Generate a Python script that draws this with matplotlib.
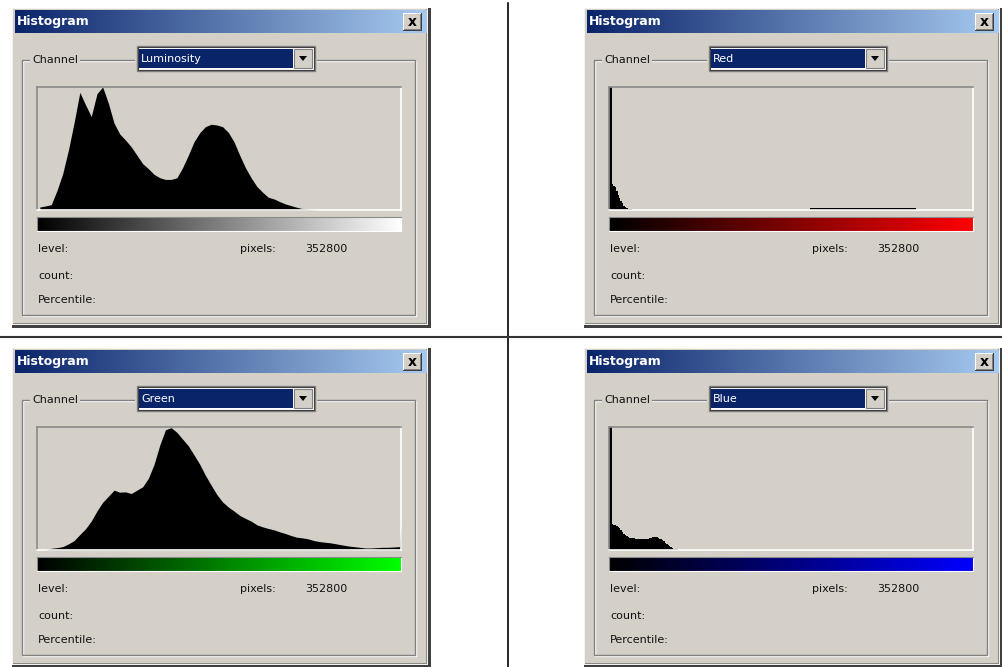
import matplotlib.pyplot as plt
import numpy as np
from matplotlib.patches import Rectangle, Polygon
from matplotlib.colors import LinearSegmentedColormap

W, H = 1003, 667
FACE = '#D4D0C8'

channel_names = ['Luminosity', 'Red', 'Green', 'Blue']
ramp_colors = ['#FFFFFF', '#FF0000', '#00FF00', '#0000FF']
pixel_count = 352800

# luminosity, 4-level bins
lum_levels = list(range(2, 256, 4))
lum_counts = [9, 12, 16, 58, 108, 178, 260, 350, 313, 278, 346, 366, 318, 258, 226, 208,
              188, 163, 138, 123, 106, 96, 91, 91, 96, 126, 163, 203, 230, 248, 255, 253,
              248, 231, 203, 163, 126, 96, 70, 53, 38, 33, 25, 18, 13, 8, 4, 2,
              1, 0, 0, 0, 0, 0, 0, 0, 0, 0, 0, 0, 0, 0, 0, 0]

# red: almost everything in the first few levels
red_levels = [0, 1, 2, 3, 4, 5, 6, 7, 8, 9, 10, 11, 12, 13, 14, 15, 16, 17, 18,
              141, 213, 214, 215, 255]
red_counts = [366, 366, 78, 72, 68, 58, 45, 35, 28, 20, 13, 9, 7, 4, 3, 2, 1, 1, 0,
              5.5, 5.5, 6, 0, 0]

# green, 4-level bins plus the clipped level 255
green_levels = list(range(2, 256, 4)) + [255]
green_counts = [0, 0, 5, 7, 10, 18, 28, 46, 63, 86, 116, 142, 160, 178, 172, 173,
                168, 178, 188, 213, 255, 312, 358, 364, 350, 330, 310, 283, 255, 222, 193, 165,
                143, 128, 116, 103, 94, 86, 75, 69, 64, 60, 54, 49, 43, 38, 36, 33,
                28, 25, 23, 21, 18, 15, 12, 10, 8, 6, 6, 7, 8, 8, 9, 10, 78]

blue_levels = [0, 1, 2, 3, 4, 5, 6, 7, 8, 9, 10, 11, 12, 13, 14, 16, 18, 20, 22, 24,
               26, 28, 30, 32, 34, 35, 36, 37, 38, 39, 40, 41, 42, 43, 44, 45, 46, 47, 48, 49, 255]
blue_counts = [366, 366, 78, 75, 73, 71, 68, 64, 60, 55, 48, 45, 42, 39, 37, 35, 34, 33, 33, 33,
               34, 36, 38, 38, 36, 34, 32, 29, 26, 22, 18, 15, 11, 8, 6, 4, 3, 2, 1, 0, 0]

hist_levels = [lum_levels, red_levels, green_levels, blue_levels]
hist_counts = [lum_counts, red_counts, green_counts, blue_counts]
hist_step = [None, 'post', None, 'post']
offsets = [(0, 0), (572, 0), (0, 340), (572, 340)]

fig = plt.figure(figsize=(W / 100, H / 100), dpi=100)
fig.patch.set_facecolor('white')
bg = fig.add_axes([0, 0, 1, 1])
bg.axis('off')

title_cmap = LinearSegmentedColormap.from_list('title', ['#0A246A', '#A6CAF0'])
grad = np.linspace(0, 1, 256).reshape(1, -1)


def rect(x0, y0, x1, y1, **kw):
    bg.add_patch(Rectangle((x0, y0), x1 - x0, y1 - y0, **kw))


def fig_axes(x0, y0, x1, y1):
    return fig.add_axes([x0 / W, 1 - y1 / H, (x1 - x0) / W, (y1 - y0) / H])


for k in range(4):
    dx, dy = offsets[k]
    # window frame
    rect(12 + dx, 8 + dy, 431 + dx, 328 + dy, facecolor='#404040', edgecolor='none')
    rect(12 + dx, 8 + dy, 428 + dx, 325 + dy, facecolor='#F4F3EF', edgecolor='none')
    rect(13 + dx, 9 + dy, 427 + dx, 324 + dy, facecolor='#8C8A85', edgecolor='none')
    rect(13 + dx, 9 + dy, 426 + dx, 323 + dy, facecolor=FACE, edgecolor='none')
    # title bar
    bg.imshow(grad, cmap=title_cmap, aspect='auto',
              extent=(15 + dx, 427 + dx, 33 + dy, 10 + dy), zorder=2)
    bg.text(17 + dx, 22 + dy, 'Histogram', color='white', fontsize=9,
            fontweight='bold', va='center', ha='left', zorder=3)
    rect(403 + dx, 13 + dy, 422 + dx, 31 + dy, facecolor='#404040', zorder=3)
    rect(403 + dx, 13 + dy, 421 + dx, 30 + dy, facecolor='white', zorder=3)
    rect(404 + dx, 14 + dy, 421 + dx, 30 + dy, facecolor='#808080', zorder=3)
    rect(404 + dx, 14 + dy, 420 + dx, 29 + dy, facecolor=FACE, zorder=3)
    bg.text(412 + dx, 21.5 + dy, 'x', color='black', fontsize=10, fontweight='bold',
            ha='center', va='center', zorder=4)

    # group box (etched)
    rect(23 + dx, 61 + dy, 416 + dx, 316 + dy, facecolor='none', edgecolor='white', lw=1)
    rect(22 + dx, 60 + dy, 415 + dx, 315 + dy, facecolor='none', edgecolor='#808080', lw=1)
    bg.text(32 + dx, 60 + dy, 'Channel', fontsize=8, color='#111111', va='center',
            ha='left', zorder=3,
            bbox=dict(facecolor=FACE, edgecolor='none', pad=1.5))

    # combo box
    rect(135 + dx, 45 + dy, 317 + dx, 72 + dy, facecolor=FACE, edgecolor='none', zorder=2)
    rect(137 + dx, 46 + dy, 315 + dx, 71 + dy, facecolor='white', edgecolor='#808080',
         lw=1, zorder=2)
    rect(138 + dx, 47 + dy, 314 + dx, 70 + dy, facecolor='white', edgecolor='#404040',
         lw=0.8, zorder=2)
    rect(139 + dx, 49 + dy, 293 + dx, 68 + dy, facecolor='#0A246A', zorder=3)
    bg.text(141 + dx, 58.5 + dy, channel_names[k], color='white', fontsize=8,
            va='center', ha='left', zorder=4)
    rect(294 + dx, 49 + dy, 312 + dx, 68 + dy, facecolor=FACE, edgecolor='#808080',
         lw=0.8, zorder=3)
    bg.add_patch(Polygon([(299 + dx, 56 + dy), (307 + dx, 56 + dy), (303 + dx, 61 + dy)],
                         closed=True, facecolor='black', edgecolor='none', zorder=4))

    # labels
    bg.text(38 + dx, 249 + dy, 'level:', fontsize=8, color='#111111', va='center')
    bg.text(240 + dx, 249 + dy, 'pixels:', fontsize=8, color='#111111', va='center')
    bg.text(305 + dx, 249 + dy, str(pixel_count), fontsize=8, color='#111111', va='center')
    bg.text(38 + dx, 276 + dy, 'count:', fontsize=8, color='#111111', va='center')
    bg.text(38 + dx, 300 + dy, 'Percentile:', fontsize=8, color='#111111', va='center')

    # histogram
    ax = fig_axes(37 + dx, 87 + dy, 401 + dx, 210 + dy)
    ax.set_facecolor(FACE)
    ax.fill_between(hist_levels[k], hist_counts[k], 0, color='black', lw=0,
                    step=hist_step[k])
    ax.set_xlim(0, 255)
    ax.set_ylim(0, 366)
    ax.set_xticks([])
    ax.set_yticks([])
    ax.spines['top'].set_color('#8A8A8A')
    ax.spines['left'].set_color('#8A8A8A')
    ax.spines['bottom'].set_color('white')
    ax.spines['right'].set_color('white')
    for s in ax.spines.values():
        s.set_linewidth(1.2)

    # colour ramp
    rax = fig_axes(37 + dx, 217 + dy, 401 + dx, 231 + dy)
    ramp = LinearSegmentedColormap.from_list('ramp', ['black', ramp_colors[k]])
    rax.imshow(grad, cmap=ramp, aspect='auto')
    rax.set_xticks([])
    rax.set_yticks([])
    rax.spines['top'].set_color('#8A8A8A')
    rax.spines['left'].set_color('#8A8A8A')
    rax.spines['bottom'].set_color('white')
    rax.spines['right'].set_color('white')

# table rules between the four dialogs
bg.plot([508, 508], [3, 667], color='black', lw=1.2)
bg.plot([0, 1003], [337, 337], color='#333333', lw=1.5)

bg.set_xlim(0, W)
bg.set_ylim(H, 0)

fig.savefig('out.png', dpi=100)
